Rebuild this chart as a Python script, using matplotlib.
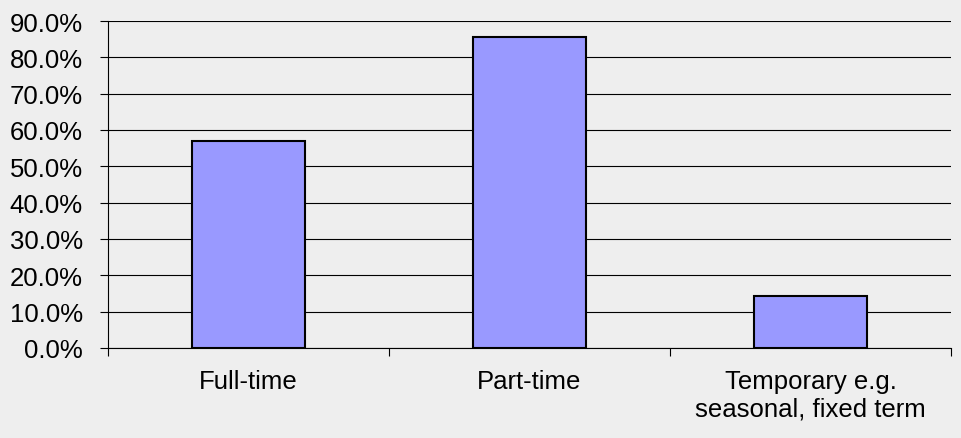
import matplotlib.pyplot as plt
import numpy as np
from matplotlib.ticker import PercentFormatter, FixedLocator

plt.rcParams['font.family'] = ['Liberation Sans', 'DejaVu Sans']

categories = ["Full-time", "Part-time", "Temporary e.g.\nseasonal, fixed term"]
values = [57.1, 85.7, 14.3]
yticks = [0, 10, 20, 30, 40, 50, 60, 70, 80, 90]

bg = '#eeeeee'
fig = plt.figure(figsize=(9.61, 4.39), dpi=100, facecolor=bg)
ax = fig.add_axes([108/961, 1-349/439, 843/961, 327/439])
ax.set_facecolor(bg)

x = np.arange(len(categories))
ax.bar(x, values, width=0.4, color='#9999ff', edgecolor='black', linewidth=1.5, zorder=3)

ax.set_xlim(-0.5, len(categories) - 0.5)
ax.set_ylim(0, 90)
ax.set_yticks(yticks)
ax.yaxis.set_major_formatter(PercentFormatter(decimals=1))
ax.grid(axis='y', color='black', linewidth=0.8, zorder=1)

ax.set_xticks(x)
ax.set_xticklabels(categories, linespacing=1.2)
ax.xaxis.set_minor_locator(FixedLocator(np.arange(len(categories) + 1) - 0.5))
ax.tick_params(axis='x', which='major', length=0, pad=15, labelsize=18.5)
ax.tick_params(axis='x', which='minor', length=6, width=0.8, color='black')
ax.tick_params(axis='y', length=6, width=0.8, pad=12, labelsize=18.5)

for s in ['top', 'right']:
    ax.spines[s].set_visible(False)
for s in ['left', 'bottom']:
    ax.spines[s].set_linewidth(0.8)

fig.savefig('out.png', dpi=100, facecolor=bg)
